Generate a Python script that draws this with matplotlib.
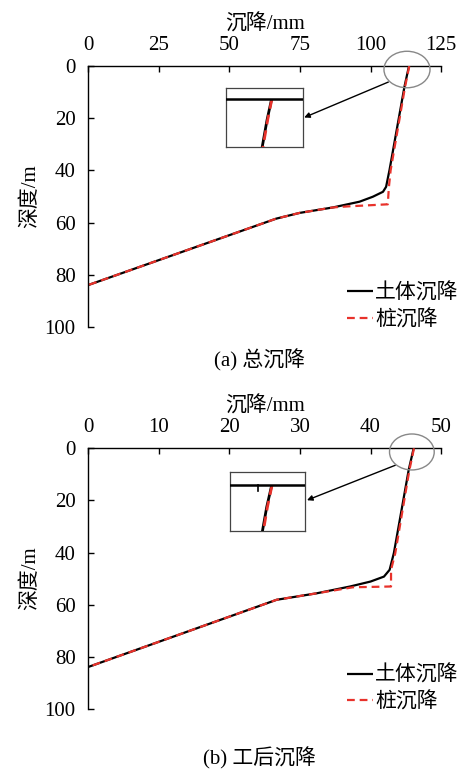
import numpy as np
import matplotlib
matplotlib.use('Agg')
import matplotlib.pyplot as plt
from matplotlib.patches import Ellipse

plt.rcParams['font.family'] = ['Liberation Serif', 'Noto Sans CJK SC']
plt.rcParams['axes.unicode_minus'] = False

# (a) total settlement
soil_a_x = [113.6, 112.0, 106.7, 105.5, 104.4, 100.8, 96.1, 86.7, 74.9, 66.6, 0.0]
soil_a_y = [0.0, 7.9, 39.9, 46.3, 48.2, 50.1, 52.0, 54.2, 56.3, 58.5, 84.0]
pile_a_x = [113.7, 112.2, 107.1, 106.5, 106.1, 92.0, 86.7, 74.9, 66.6, 0.0]
pile_a_y = [0.0, 8.0, 40.0, 46.3, 53.0, 53.8, 54.2, 56.3, 58.5, 84.0]

# (b) post-construction settlement
soil_b_x = [46.1, 45.4, 43.3, 42.7, 41.9, 40.0, 37.1, 32.4, 26.7, 0.0]
soil_b_y = [0.0, 8.3, 40.2, 46.6, 49.2, 51.1, 53.0, 55.6, 58.1, 83.9]
pile_b_x = [46.15, 45.5, 43.5, 42.9, 42.9, 37.5, 32.4, 26.7, 0.0]
pile_b_y = [0.0, 8.3, 40.2, 46.6, 53.0, 53.3, 55.6, 58.1, 83.9]

xticks_a = [0, 25, 50, 75, 100, 125]
xticks_b = [0, 10, 20, 30, 40, 50]
yticks = [0, 20, 40, 60, 80, 100]

fs = 15
red = '#e8322b'

fig = plt.figure(figsize=(4.61, 7.69), dpi=100)


def draw_lines(ax, sx, sy, px, py, lw=1.6):
    ax.plot(sx, sy, color='black', lw=lw, solid_capstyle='butt', label='土体沉降', zorder=3)
    ax.plot(px, py, color=red, lw=lw, ls=(0, (3.5, 2.2)), label='桩沉降', zorder=4)


def panel(rect, sx, sy, px, py, xmax, xticks, ell, arrow, inset_rect, inset_lim, caption, cap_y, extra_tick=None):
    ax = fig.add_axes(rect)
    draw_lines(ax, sx, sy, px, py)
    ax.set_xlim(0, xmax)
    ax.set_ylim(100, 0)
    ax.xaxis.tick_top()
    ax.xaxis.set_label_position('top')
    ax.set_xticks(xticks)
    ax.set_yticks(yticks)
    for s in ['right', 'bottom']:
        ax.spines[s].set_visible(False)
    for s in ['left', 'top']:
        ax.spines[s].set_linewidth(1.0)
    ax.tick_params(axis='x', direction='in', length=4, width=1, labelsize=fs, pad=8)
    ax.tick_params(axis='y', direction='in', length=4, width=1, labelsize=fs, pad=9)
    ax.set_xlabel('沉降/mm', fontsize=fs, labelpad=5)
    ax.set_ylabel('深度/m', fontsize=fs, labelpad=3)
    ax.legend(loc='lower left', bbox_to_anchor=(0.71, -0.045), frameon=False, fontsize=fs,
              handlelength=1.25, handletextpad=0.1, labelspacing=0.3, borderaxespad=0)
    # zoom circle and arrow
    e = Ellipse(ell[0], ell[1], ell[2], fill=False, edgecolor='#888888', lw=1.0, clip_on=False, zorder=5)
    ax.add_patch(e)
    ax.annotate('', xy=arrow[1], xytext=arrow[0],
                arrowprops=dict(arrowstyle='-|>', color='black', lw=1.0, mutation_scale=8,
                                shrinkA=0, shrinkB=0))
    # inset
    ins = fig.add_axes(inset_rect)
    draw_lines(ins, sx, sy, px, py, lw=2.0)
    ins.axhline(0, color='black', lw=1.8, zorder=5)
    if extra_tick is not None:
        ins.plot([extra_tick[0], extra_tick[0]], [0, extra_tick[1]], color='black', lw=1.2)
    ins.set_xlim(inset_lim[0])
    ins.set_ylim(inset_lim[1])
    ins.set_xticks([])
    ins.set_yticks([])
    for s in ins.spines.values():
        s.set_edgecolor('#444444')
        s.set_linewidth(0.9)
    fig.text(0.563, cap_y, caption, ha='center', va='center', fontsize=fs)
    return ax


panel([0.191, 0.575, 0.766, 0.339], soil_a_x, soil_a_y, pile_a_x, pile_a_y, 125, xticks_a,
      ((112.9, 1.3), 16.3, 14.0), ((106.3, 6.1), (76.5, 19.7)),
      [0.490, 0.8085, 0.1664, 0.0767], ((97.4, 124.6), (18.4, -4.2)),
      '(a) 总沉降', 1 - 360 / 769)

panel([0.191, 0.078, 0.766, 0.339], soil_b_x, soil_b_y, pile_b_x, pile_b_y, 50, xticks_b,
      ((45.85, 1.4), 6.33, 13.8), ((43.5, 6.5), (31.0, 19.9)),
      [0.499, 0.3095, 0.1633, 0.0771], ((40.2, 50.87), (17.5, -5.25)),
      '(b) 工后沉降', 1 - 758 / 769, extra_tick=(44.1, 2.2))

fig.savefig('out.png', dpi=100)
